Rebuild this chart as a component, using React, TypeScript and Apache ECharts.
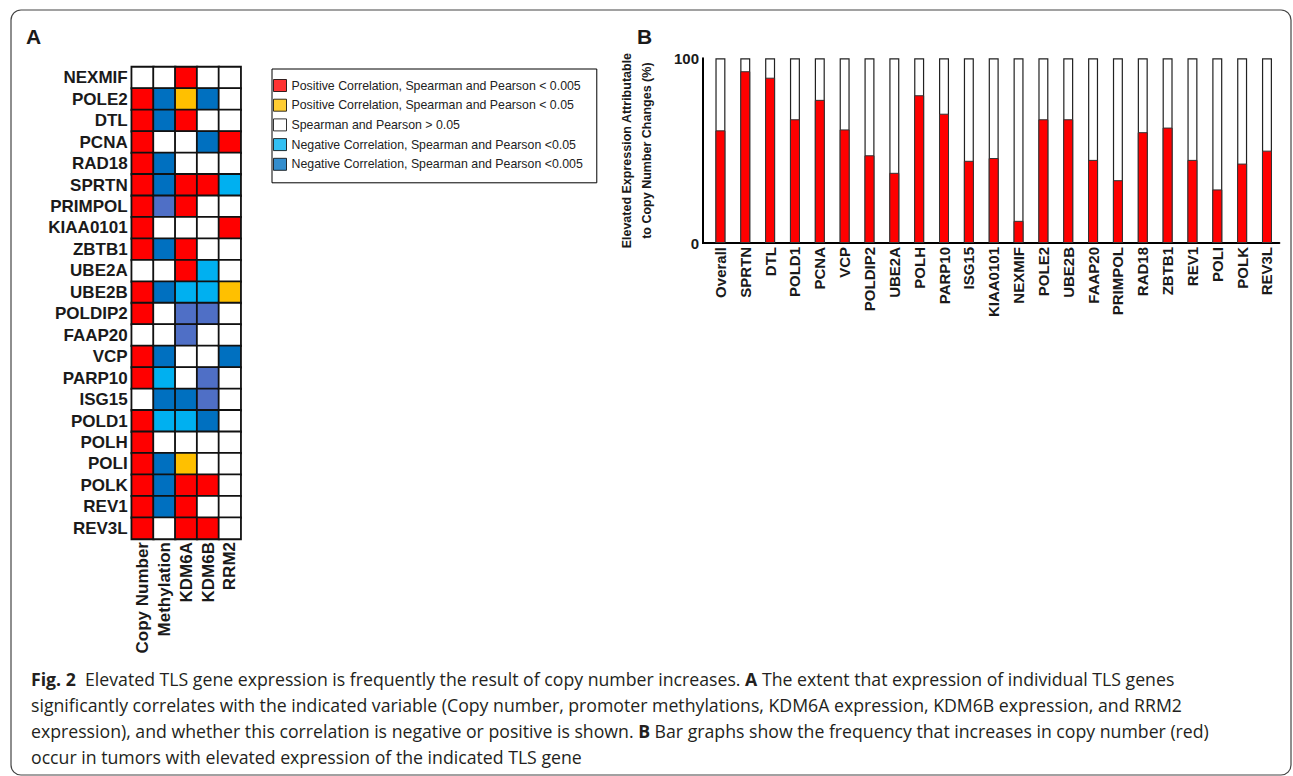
import React, { useEffect, useRef } from "react";
import * as echarts from "echarts";

// ---------- Panel A data ----------
const heatRows = ["NEXMIF", "POLE2", "DTL", "PCNA", "RAD18", "SPRTN", "PRIMPOL", "KIAA0101", "ZBTB1", "UBE2A", "UBE2B", "POLDIP2", "FAAP20", "VCP", "PARP10", "ISG15", "POLD1", "POLH", "POLI", "POLK", "REV1", "REV3L"];
const heatCols = ["Copy Number", "Methylation", "KDM6A", "KDM6B", "RRM2"];
// R = positive <0.005, O = positive <0.05, W = n.s., L = negative <0.05, D = negative <0.005, P = intermediate negative shade
const copyNumberCol = ["W", "R", "R", "R", "R", "R", "R", "R", "R", "W", "R", "R", "W", "R", "R", "W", "R", "R", "R", "R", "R", "R"];
const methylationCol = ["W", "D", "D", "W", "D", "D", "P", "W", "D", "W", "D", "W", "W", "D", "L", "D", "L", "W", "D", "D", "D", "W"];
const kdm6aCol = ["R", "O", "R", "W", "W", "R", "R", "W", "R", "R", "L", "P", "P", "W", "W", "D", "L", "W", "O", "R", "R", "R"];
const kdm6bCol = ["W", "D", "W", "D", "W", "R", "W", "W", "W", "L", "L", "P", "W", "W", "P", "P", "D", "W", "W", "R", "W", "R"];
const rrm2Col = ["W", "W", "W", "R", "W", "L", "W", "R", "W", "W", "O", "W", "W", "D", "W", "W", "W", "W", "W", "W", "W", "W"];
const heatColumns = [copyNumberCol, methylationCol, kdm6aCol, kdm6bCol, rrm2Col];

const legendLabels = [
  "Positive Correlation, Spearman and Pearson < 0.005",
  "Positive Correlation, Spearman and Pearson < 0.05",
  "Spearman and Pearson > 0.05",
  "Negative Correlation, Spearman and Pearson <0.05",
  "Negative Correlation, Spearman and Pearson <0.005",
];
const codeValues: Record<string, number> = { R: 2, O: 1, W: 0, L: -1, D: -2, P: -3 };
const legendCodes = [2, 1, 0, -1, -2];
const legendColors = ["#ff0000", "#ffc000", "#ffffff", "#00b0f0", "#0070c0"];
const mixedBlue = "#4f6fc6";

// ---------- Panel B data ----------
const barGenes = ["Overall", "SPRTN", "DTL", "POLD1", "PCNA", "VCP", "POLDIP2", "UBE2A", "POLH", "PARP10", "ISG15", "KIAA0101", "NEXMIF", "POLE2", "UBE2B", "FAAP20", "PRIMPOL", "RAD18", "ZBTB1", "REV1", "POLI", "POLK", "REV3L"];
const copyNumberPct = [61, 93, 89.5, 67, 77.5, 61.5, 47.5, 38, 80, 70, 44.5, 46, 12, 67, 67, 45, 34, 60, 62.5, 45, 29, 43, 50];
const totalPct = barGenes.map(() => 100);

const captionLines = [
  "{b|Fig. 2}  Elevated TLS gene expression is frequently the result of copy number increases. {b|A} The extent that expression of individual TLS genes",
  "significantly correlates with the indicated variable (Copy number, promoter methylations, KDM6A expression, KDM6B expression, and RRM2",
  "expression), and whether this correlation is negative or positive is shown. {b|B} Bar graphs show the frequency that increases in copy number (red)",
  "occur in tumors with elevated expression of the indicated TLS gene",
];

const SANS = "'Liberation Sans', Arial, sans-serif";
const CAP = "'Open Sans', 'Noto Sans', sans-serif";

export default function App() {
  const ref = useRef<HTMLDivElement>(null);
  useEffect(() => {
    if (!ref.current) return;
    const chart = echarts.init(ref.current, undefined, { renderer: "svg" });

    const heatData: any[] = [];
    heatColumns.forEach((col, ci) => {
      col.forEach((code, ri) => {
        heatData.push([ci, ri, codeValues[code]]);
      });
    });

    const option: any = {
      animation: false,
      backgroundColor: "#ffffff",
      grid: [
        { left: 131.7, top: 67, width: 109, height: 472 },
        { left: 708, top: 58.3, right: 13.6, bottom: 533 },
      ],
      xAxis: [
        {
          type: "category",
          gridIndex: 0,
          data: heatCols,
          position: "bottom",
          axisLine: { show: false },
          axisTick: { show: false },
          axisLabel: { rotate: 90, margin: 3, interval: 0, fontFamily: SANS, fontWeight: "bold", fontSize: 17, color: "#1a1a1a" },
        },
        {
          type: "category",
          gridIndex: 1,
          data: barGenes,
          axisLine: { show: true, lineStyle: { color: "#000", width: 2 } },
          axisTick: { show: false },
          axisLabel: { rotate: 90, margin: 4, interval: 0, fontFamily: SANS, fontWeight: "bold", fontSize: 15, color: "#1a1a1a" },
        },
      ],
      yAxis: [
        {
          type: "category",
          gridIndex: 0,
          data: heatRows,
          inverse: true,
          axisLine: { show: false },
          axisTick: { show: false },
          axisLabel: { margin: 4, interval: 0, fontFamily: SANS, fontWeight: "bold", fontSize: 17, color: "#1a1a1a" },
        },
        {
          type: "value",
          gridIndex: 1,
          min: 0,
          max: 100,
          interval: 100,
          offset: 5,
          splitLine: { show: false },
          axisLine: { show: true, lineStyle: { color: "#000", width: 2 } },
          axisTick: { show: false },
          axisLabel: { margin: 4, fontFamily: SANS, fontWeight: "bold", fontSize: 15, color: "#1a1a1a" },
          name: "Elevated Expression Attributable\nto Copy Number Changes (%)",
          nameLocation: "middle",
          nameGap: 46,
          nameTextStyle: { fontFamily: SANS, fontWeight: "bold", fontSize: 12.5, lineHeight: 20, color: "#1a1a1a" },
        },
      ],
      visualMap: {
        type: "piecewise",
        show: false,
        seriesIndex: 0,
        pieces: legendCodes.map((v, i) => ({ value: v, color: legendColors[i] })),
        outOfRange: { color: mixedBlue },
      },
      legend: {
        orient: "vertical",
        left: 272,
        top: 69,
        padding: [10, 14, 12, 1],
        borderColor: "#000",
        borderWidth: 1,
        itemWidth: 13,
        itemHeight: 12,
        itemGap: 6.7,
        icon: "rect",
        selectedMode: false,
        data: legendLabels,
        itemStyle: { borderColor: "#000", borderWidth: 1 },
        textStyle: { fontFamily: SANS, fontSize: 12.35, color: "#222" },
      },
      series: [
        {
          type: "heatmap",
          xAxisIndex: 0,
          yAxisIndex: 0,
          data: heatData,
          itemStyle: { borderColor: "#111", borderWidth: 1.8 },
          emphasis: { disabled: true },
        },
        ...legendLabels.map((name, i) => ({
          type: "scatter",
          name,
          xAxisIndex: 0,
          yAxisIndex: 0,
          data: [],
          itemStyle: { color: legendColors[i], borderColor: "#000", borderWidth: 1 },
        })),
        {
          type: "bar",
          name: "total",
          xAxisIndex: 1,
          yAxisIndex: 1,
          data: totalPct,
          barWidth: 10,
          itemStyle: { color: "#ffffff", borderColor: "#222", borderWidth: 1.2 },
          silent: true,
        },
        {
          type: "bar",
          name: "copy",
          xAxisIndex: 1,
          yAxisIndex: 1,
          data: copyNumberPct,
          barWidth: 10,
          barGap: "-100%",
          itemStyle: { color: "#ff0000", borderColor: "#333", borderWidth: 1 },
          silent: true,
        },
      ],
      graphic: [
        {
          type: "rect",
          silent: true,
          shape: { x: 11, y: 10, width: 1280, height: 765, r: 10 },
          style: { fill: "none", stroke: "#444", lineWidth: 1.2 },
        },
        {
          type: "line",
          silent: true,
          shape: { x1: 702, y1: 243, x2: 709, y2: 243 },
          style: { stroke: "#000", lineWidth: 2 },
        },
        {
          type: "text",
          left: 26,
          top: 26,
          style: { text: "A", fontFamily: SANS, fontWeight: "bold", fontSize: 21, fill: "#1a1a1a" },
        },
        {
          type: "text",
          left: 637,
          top: 26,
          style: { text: "B", fontFamily: SANS, fontWeight: "bold", fontSize: 21, fill: "#1a1a1a" },
        },
        ...captionLines.map((line, i) => ({
          type: "text",
          x: 31,
          y: 679 + i * 26,
          style: {
            text: line,
            fontFamily: CAP,
            fontSize: 17.7,
            fill: "#231f20",
            verticalAlign: "middle",
            rich: {
              b: { fontFamily: CAP, fontSize: 17.7, fontWeight: "bold", fill: "#231f20" },
            },
          },
        })),
      ],
    };
    chart.setOption(option);
    return () => chart.dispose();
  }, []);
  return <div ref={ref} style={{ position: "fixed", left: 0, top: 0, width: 1293, height: 776 }} />;
}
